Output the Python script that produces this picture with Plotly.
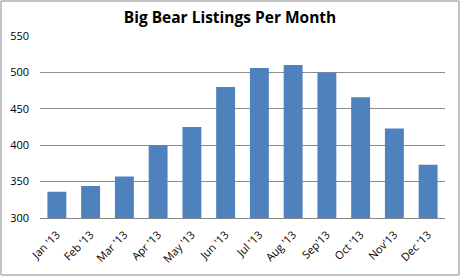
import plotly.graph_objects as go

months = ["Jan '13", "Feb '13", "Mar '13", "Apr '13", "May '13", "Jun '13",
          "Jul '13", "Aug '13", "Sep'13", "Oct '13", "Nov'13", "Dec '13"]
listings = [336, 344, 357, 400, 425, 480, 506, 510, 500, 466, 423, 373]
y_ticks = [300, 350, 400, 450, 500, 550]

W, H = 460, 276
L, R, T, B = 40, 15, 36, 58
pw, ph = W - L - R, H - T - B

fig = go.Figure(go.Bar(x=months, y=listings, marker=dict(color="#4F81BD", line=dict(width=0)),
                       width=0.56))
fig.update_layout(
    width=W, height=H,
    margin=dict(l=L, r=R, t=T, b=B),
    paper_bgcolor="white", plot_bgcolor="white",
    title=dict(text="<b>Big Bear Listings Per Month</b>", x=0.5, xanchor="center",
               y=1 - 18 / H, yanchor="middle",
               font=dict(family="Open Sans", size=15.5, color="black")),
    font=dict(family="Open Sans", size=11, color="black"),
    showlegend=False,
    bargap=0.44,
)
fig.update_xaxes(tickangle=-45, showgrid=False, showline=True, linecolor="#888",
                 linewidth=1, ticks="", tickfont=dict(size=11), ticklabelstandoff=5,
                 automargin=False)
fig.update_yaxes(range=[300, 550], tickvals=y_ticks, showgrid=True, gridcolor="#8c8c8c",
                 gridwidth=1, zeroline=False, showline=False, ticks="",
                 tickfont=dict(size=11), ticklabelstandoff=10, automargin=False)
fig.add_shape(type="rect", xref="paper", yref="paper",
              x0=(1 - L) / pw, x1=(W - 1 - L) / pw,
              y0=(H - B - (H - 1)) / ph, y1=(H - B - 1) / ph,
              line=dict(color="#8a8a8a", width=1), layer="below")
fig.write_html("out.html")
